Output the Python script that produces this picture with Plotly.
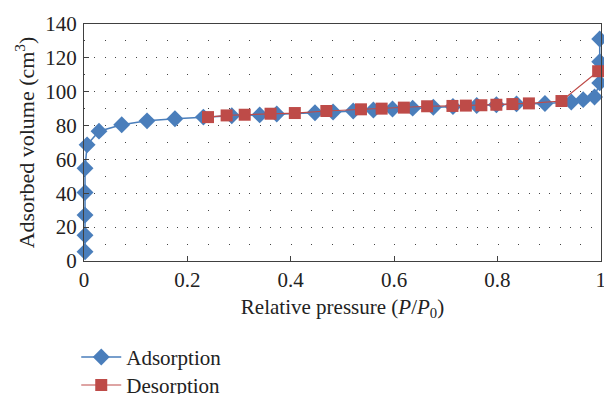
import plotly.graph_objects as go

ads_x = [0.002, 0.002, 0.002, 0.002, 0.002, 0.006, 0.029, 0.073, 0.122, 0.176, 0.231,
         0.286, 0.340, 0.373, 0.447, 0.482, 0.521, 0.560, 0.597, 0.636, 0.676, 0.714,
         0.760, 0.798, 0.837, 0.892, 0.943, 0.966, 0.988, 0.998, 0.998, 0.998]
ads_y = [5.5, 15.2, 27.1, 40.5, 54.8, 68.6, 76.7, 80.5, 82.8, 84.0, 85.0,
         85.8, 86.3, 86.8, 87.6, 88.0, 88.6, 89.2, 89.8, 90.3, 90.8, 91.3,
         91.9, 92.3, 92.8, 93.0, 93.9, 95.3, 96.9, 105.2, 117.7, 131.1]

des_x = [0.240, 0.276, 0.311, 0.361, 0.408, 0.469, 0.536, 0.576, 0.619, 0.664,
         0.713, 0.739, 0.769, 0.798, 0.829, 0.861, 0.924, 0.995]
des_y = [85.0, 86.0, 86.4, 87.0, 87.4, 88.6, 89.6, 90.0, 90.6, 91.4,
         91.6, 91.8, 92.0, 92.3, 92.7, 93.1, 94.5, 112.1]

x_ticks = [0, 0.2, 0.4, 0.6, 0.8, 1]
x_labels = ["0", "0.2", "0.4", "0.6", "0.8", "1"]
y_ticks = [0, 20, 40, 60, 80, 100, 120, 140]

BLUE = "#4A7EBB"
RED = "#BE4B48"
AX = "#404040"
FONT = "Liberation Serif, Times New Roman, serif"
FS = 21

fig = go.Figure()
fig.add_trace(go.Scatter(
    x=ads_x, y=ads_y, name="Adsorption", mode="lines+markers",
    line=dict(color=BLUE, width=1.5),
    marker=dict(symbol="diamond", size=13, color=BLUE),
    legend="legend", cliponaxis=False,
))
fig.add_trace(go.Scatter(
    x=des_x, y=des_y, name="Desorption", mode="lines+markers",
    line=dict(color=RED, width=1.2),
    marker=dict(symbol="square", size=12, color=RED),
    legend="legend2", cliponaxis=False,
))

leg_common = dict(
    x=-0.015, xanchor="left", yref="container", yanchor="top",
    bgcolor="rgba(0,0,0,0)", font=dict(family=FONT, size=FS, color="#222222"),
    itemwidth=40,
)

fig.update_layout(
    width=604, height=394,
    margin=dict(l=84, r=3, t=24, b=133, autoexpand=False),
    paper_bgcolor="white", plot_bgcolor="white",
    font=dict(family=FONT, size=FS, color="#222222"),
    showlegend=True,
    legend=dict(y=0.145, **leg_common),
    legend2=dict(y=0.074, **leg_common),
    xaxis=dict(
        range=[0, 1.0005], tickmode="array", tickvals=x_ticks, ticktext=x_labels,
        ticks="inside", ticklen=5, tickcolor=AX, tickwidth=1,
        showline=True, linecolor=AX, linewidth=1.3, mirror=True,
        showgrid=False, zeroline=False, ticklabeloverflow="allow",
        title=dict(text="Relative pressure (<i>P</i>/<i>P</i><sub>0</sub>)", standoff=7,
                   font=dict(family=FONT, size=FS)),
        tickfont=dict(family=FONT, size=FS),
    ),
    yaxis=dict(
        range=[0, 140], tickmode="array", tickvals=y_ticks,
        ticks="inside", ticklen=5, tickcolor=AX, tickwidth=1,
        showline=True, linecolor=AX, linewidth=1.3, mirror=True,
        showgrid=True, gridcolor="#444444", gridwidth=1, griddash="1px,9.34px",
        zeroline=False, ticklabelstandoff=2,
        minor=dict(dtick=10, showgrid=True, gridcolor="#444444", gridwidth=1,
                   griddash="1px,19.68px"),
        title=dict(text="Adsorbed volume (cm<sup>3</sup>)", standoff=4,
                   font=dict(family=FONT, size=22)),
        tickfont=dict(family=FONT, size=FS),
    ),
)

fig.write_html("out.html")
